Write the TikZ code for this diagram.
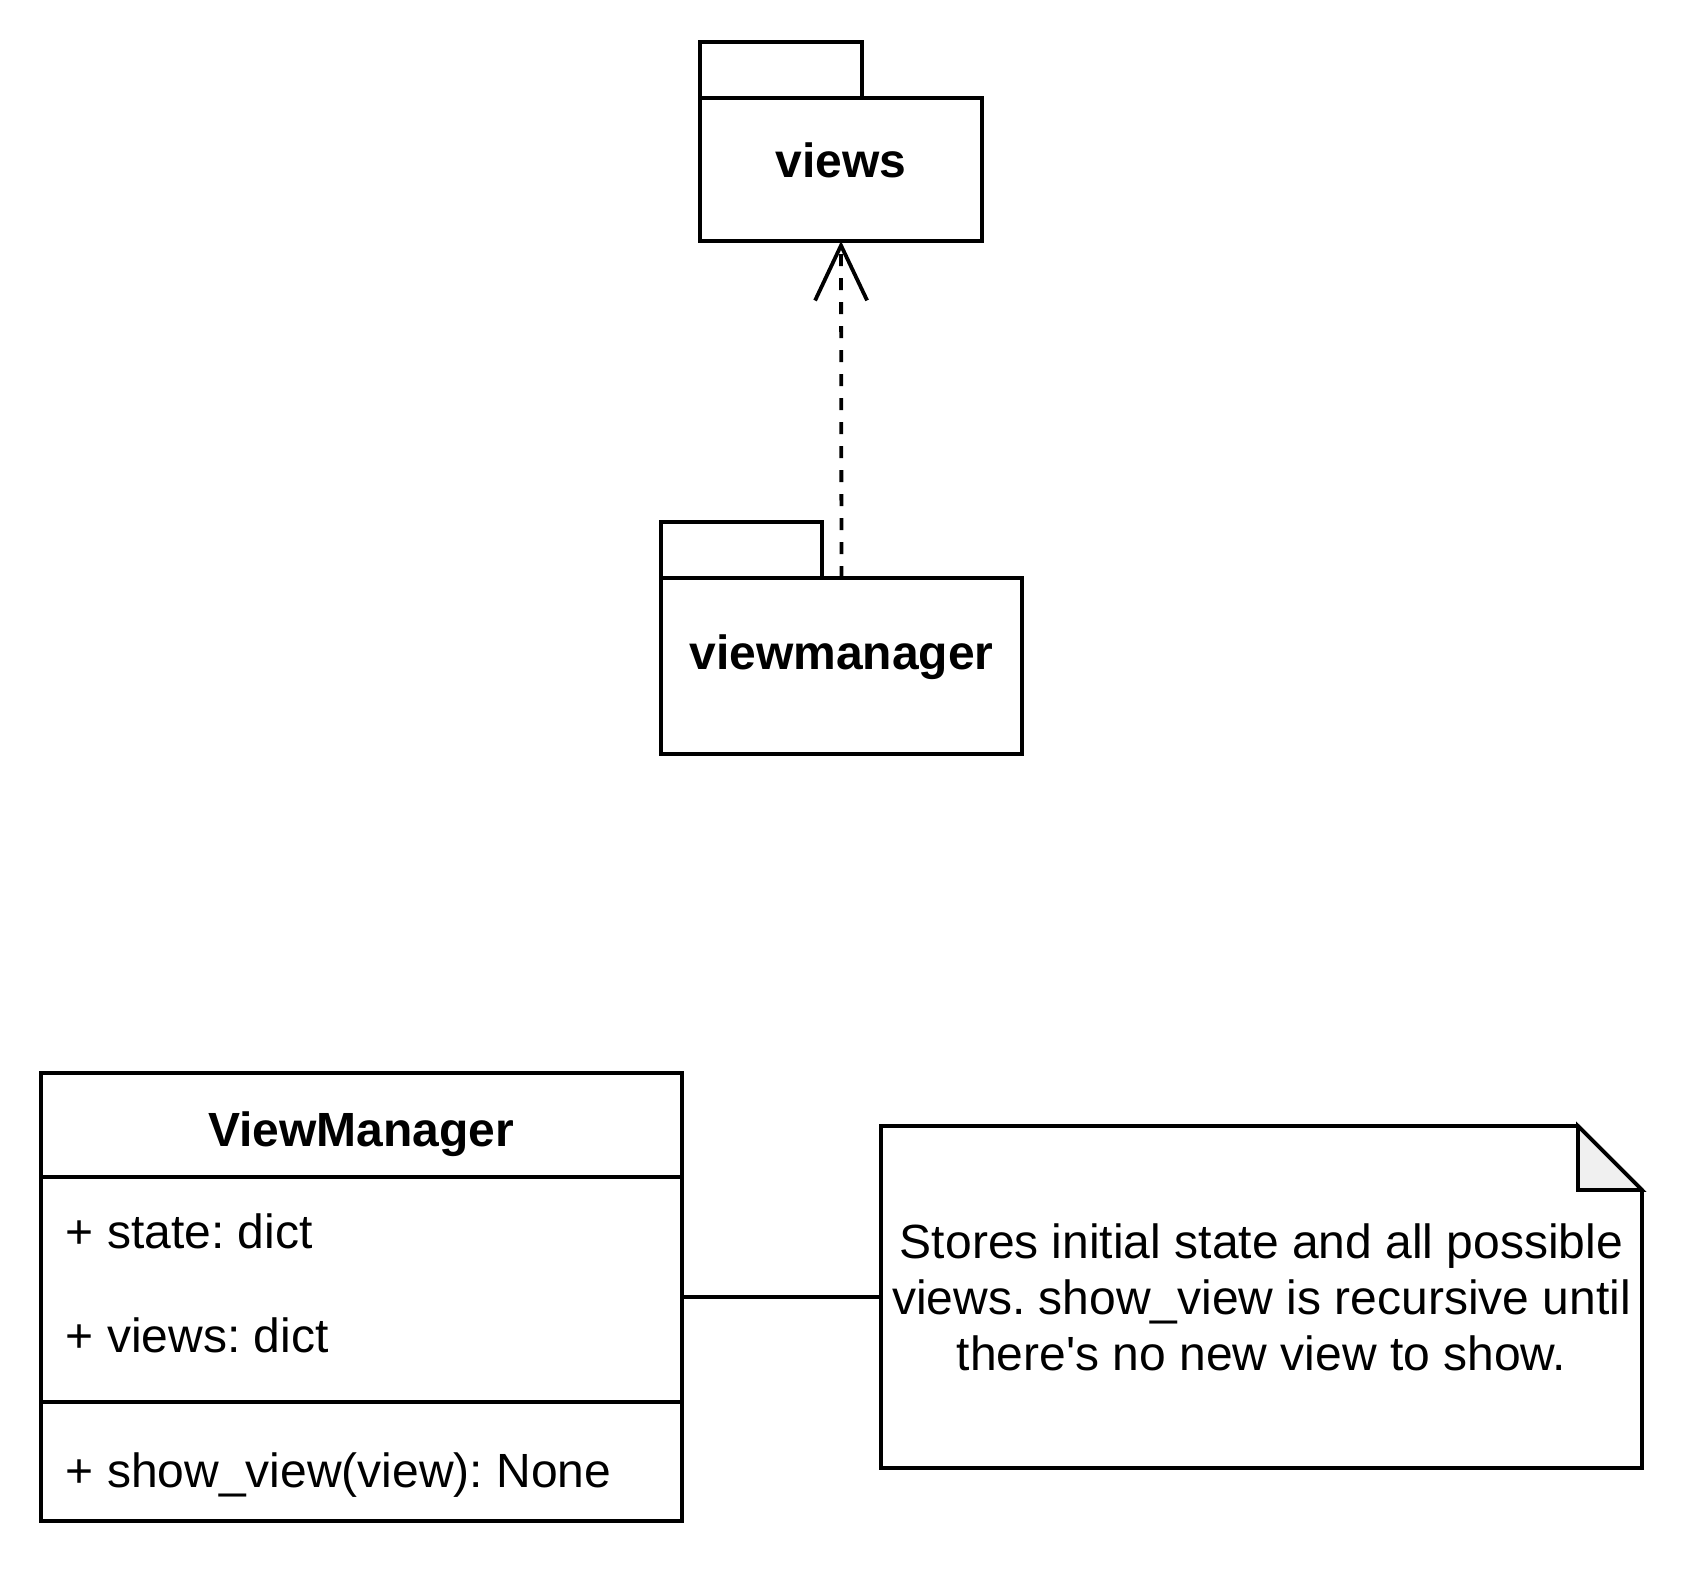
\documentclass[tikz,border=0pt]{standalone}
\usepackage{fontspec}
\setmainfont{Liberation Sans}
\usetikzlibrary{positioning,arrows.meta}
\definecolor{foldgray}{HTML}{F0F0F0}
\frenchspacing
\begin{document}
\begin{tikzpicture}[x=0.5pt,y=-0.5pt,line width=1.9pt,
    every node/.style={font=\fontsize{24}{28}\selectfont},
    pkg/.style={draw,rectangle,inner sep=0pt,outer sep=0pt},
    pkgname/.style={font=\fontsize{24}{28}\selectfont\bfseries,inner sep=0pt},
    part/.style={draw,rectangle,minimum width=320.5pt,inner sep=0pt,outer sep=0pt},
    member/.style={anchor=west,inner sep=0pt},
    notebox/.style={rectangle,minimum width=380.5pt,minimum height=171pt,align=center,inner sep=0pt,outer sep=0pt},
    dep/.style={dash pattern=on 6pt off 6pt,-{Straight Barb[length=27.5pt,width=26pt]}}]
    \useasboundingbox (0,0) rectangle (1684,1576);
    % packages
    \node[pkg,minimum width=141pt,minimum height=71.5pt](views) at (841,169.5){};
    \draw (views.north west) rectangle ++(81pt,28pt);
    \node[pkgname](viewsname) at (841,160){views};
    \node[pkg,minimum width=180.5pt,minimum height=88pt](vmpkg) at (841.5,666){};
    \draw (vmpkg.north west) rectangle ++(80.5pt,28pt);
    \node[pkgname](vmpkgname) at (841.5,657){viewmanager};
    \draw[dep](vmpkg.north) -- (views.south);
    % class
    \node[part,minimum height=52pt](vmhead) at (361.5,1125){};
    \node[pkgname,anchor=base](vmname) at (361,1146){ViewManager};
    \node[part,minimum height=112.5pt,below=0pt of vmhead](vmattr){};
    \node[part,minimum height=59.5pt,below=0pt of vmattr](vmops){};
    \node[member](vmstate) at (64,1231){+ state: dict};
    \node[member](vmviews) at (64,1335){+ views: dict};
    \node[member](vmshow) at (64,1475){+ show\_view(view): None};
    % note
    \node[notebox](vmnote) at (1261.5,1297){Stores initial state and all possible\\views. show\_view is recursive until\\there\textquotesingle s no new view to show.};
    \draw (vmnote.north west) -- ([xshift=-32pt]vmnote.north east) -- ([yshift=-32pt]vmnote.north east) -- (vmnote.south east) -- (vmnote.south west) -- cycle;
    \draw[fill=foldgray] ([xshift=-32pt]vmnote.north east) -- ([xshift=-32pt,yshift=-32pt]vmnote.north east) -- ([yshift=-32pt]vmnote.north east) -- cycle;
    \draw(vmattr.east |- vmnote.west) -- (vmnote.west);
\end{tikzpicture}
\end{document}
